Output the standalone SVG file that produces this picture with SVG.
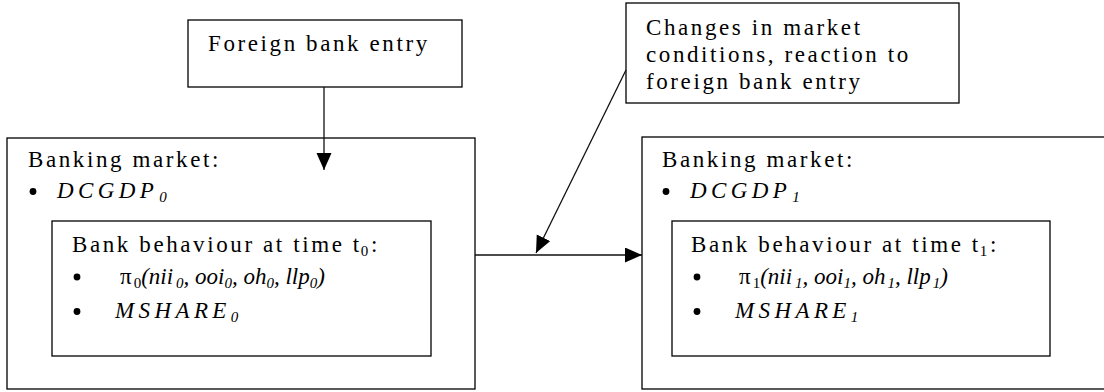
<svg xmlns="http://www.w3.org/2000/svg" width="1104" height="392" viewBox="0 0 1104 392">
  <defs>
    <marker id="arrow" markerUnits="userSpaceOnUse" markerWidth="18" markerHeight="16" refX="17" refY="7.5" orient="auto">
      <path d="M0,0 L17,7.5 L0,15 Z" fill="#000"/>
    </marker>
    <style>
      .box { fill: #fff; stroke: #000; stroke-width: 1.3; }
      .t { font-family: "Liberation Serif", "Times New Roman", serif; font-size: 23px; letter-spacing: 2.6px; fill: #000; }
      .i { font-style: italic; }
      .wide { letter-spacing: 4.4px; }
      .sub { font-size: 15px; }
      .tight { letter-spacing: 0px; }
      .dot { fill: #000; }
      .conn { stroke: #111; stroke-width: 1.3; fill: none; marker-end: url(#arrow); }
    </style>
  </defs>
  <rect width="1104" height="392" fill="#fff"/>

  <!-- market at time t0 -->
  <g id="market-t0">
    <rect class="box" x="7" y="138" width="468" height="251"/>
    <text class="t" x="28" y="167">Banking market:</text>
    <circle class="dot" cx="33" cy="191.5" r="3.4"/>
    <text class="t i wide" x="57" y="198">DCGDP<tspan class="sub" dx="1" dy="4">0</tspan></text>
    <g id="behaviour-t0">
      <rect class="box" x="52" y="221" width="379" height="135"/>
      <text class="t" x="72" y="252">Bank behaviour at time t<tspan class="sub" dx="-1" dy="4">0</tspan><tspan dy="-4">:</tspan></text>
      <circle class="dot" cx="77" cy="277" r="3.4"/>
      <text class="t tight" x="120" y="284">π<tspan class="sub" dx="2" dy="4">0</tspan><tspan class="i" dy="-4">(nii</tspan><tspan class="i sub" dx="3" dy="4">0</tspan><tspan class="i" dy="-4">, ooi</tspan><tspan class="i sub" dy="4">0</tspan><tspan class="i" dy="-4">, oh</tspan><tspan class="i sub" dy="4">0</tspan><tspan class="i" dy="-4">, llp</tspan><tspan class="i sub" dy="4">0</tspan><tspan class="i" dy="-4">)</tspan></text>
      <circle class="dot" cx="77" cy="311.5" r="3.4"/>
      <text class="t i wide" x="115" y="318">MSHARE<tspan class="sub" dx="0" dy="4">0</tspan></text>
    </g>
  </g>

  <!-- market at time t1 -->
  <g id="market-t1">
    <rect class="box" x="642" y="137" width="470" height="252"/>
    <text class="t" x="662" y="167">Banking market:</text>
    <circle class="dot" cx="666" cy="191.5" r="3.4"/>
    <text class="t i wide" x="690" y="198">DCGDP<tspan class="sub" dx="1" dy="4">1</tspan></text>
    <g id="behaviour-t1">
      <rect class="box" x="672" y="221" width="378" height="135"/>
      <text class="t" x="691" y="252">Bank behaviour at time t<tspan class="sub" dx="-1" dy="4">1</tspan><tspan dy="-4">:</tspan></text>
      <circle class="dot" cx="697" cy="277" r="3.4"/>
      <text class="t tight" x="739" y="284">π<tspan class="sub" dx="2" dy="4">1</tspan><tspan class="i" dy="-4">(nii</tspan><tspan class="i sub" dx="3" dy="4">1</tspan><tspan class="i" dy="-4">, ooi</tspan><tspan class="i sub" dy="4">1</tspan><tspan class="i" dy="-4">, oh</tspan><tspan class="i sub" dx="2" dy="4">1</tspan><tspan class="i" dy="-4">, llp</tspan><tspan class="i sub" dx="2" dy="4">1</tspan><tspan class="i" dy="-4">)</tspan></text>
      <circle class="dot" cx="697" cy="311.5" r="3.4"/>
      <text class="t i wide" x="735" y="318">MSHARE<tspan class="sub" dx="0" dy="4">1</tspan></text>
    </g>
  </g>

  <!-- entry event -->
  <g id="foreign-entry">
    <rect class="box" x="188" y="20" width="274" height="67"/>
    <text class="t" x="208" y="51">Foreign bank entry</text>
  </g>

  <!-- market response -->
  <g id="market-changes">
    <rect class="box" x="626" y="3" width="333" height="100"/>
    <text class="t" x="646" y="35">Changes in market</text>
    <text class="t" x="646" y="62">conditions, reaction to</text>
    <text class="t" x="646" y="89">foreign bank entry</text>
  </g>

  <!-- connectors -->
  <g id="connectors">
    <line class="conn" x1="324" y1="87" x2="324" y2="170"/>
    <line class="conn" x1="475" y1="255" x2="642" y2="255"/>
    <line class="conn" x1="626" y1="70" x2="536" y2="253"/>
  </g>
</svg>
